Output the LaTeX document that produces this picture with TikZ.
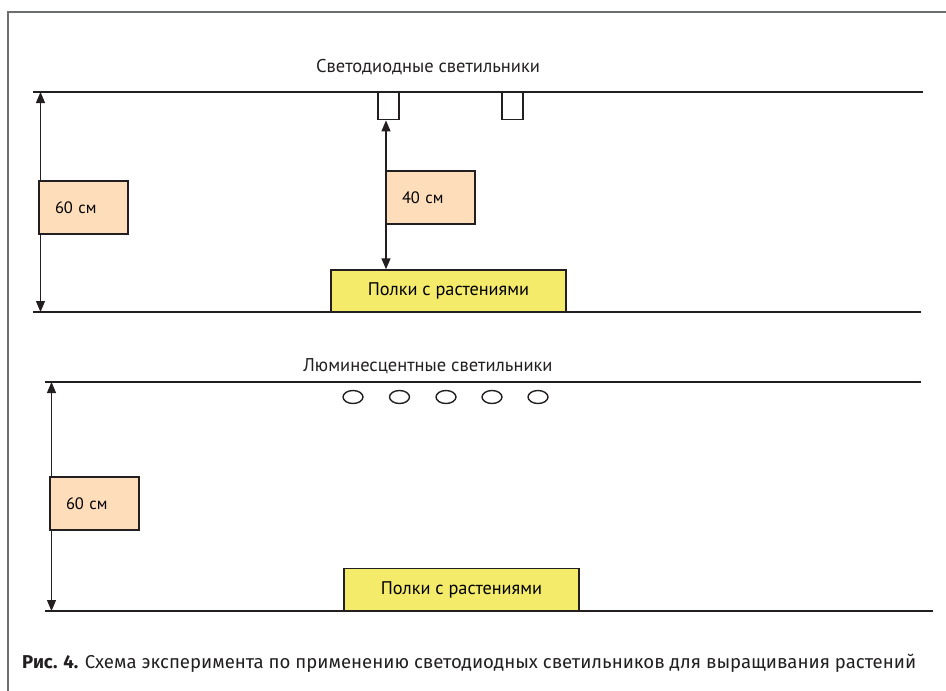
\documentclass[tikz,border=0pt]{standalone}
\usepackage{fontspec}
\setmainfont{PT Sans}
\newfontfamily\captionfont{Fira Sans}
\usetikzlibrary{arrows.meta,shapes.geometric}

\definecolor{ink}{HTML}{231F20}
\definecolor{framegray}{HTML}{6D6E70}
\definecolor{peach}{HTML}{FDDDBA}
\definecolor{lemon}{HTML}{F5EB6B}

\begin{document}
\begin{tikzpicture}[x=1pt,y=-1pt,
	level/.style={draw=ink, line width=2pt},
	dim/.style={draw=ink, line width=1.2pt, {Triangle[length=11pt,width=9pt]}-{Triangle[length=11pt,width=9pt]}},
	sizebox/.style={rectangle, draw=ink, fill=peach, line width=1.4pt, text width=57pt, inner xsep=16pt, minimum height=53pt, align=left, font=\fontsize{16.5}{20}\selectfont},
	shelfbox/.style={rectangle, draw=ink, fill=lemon, line width=1.4pt, minimum width=235pt, minimum height=42pt, font=\fontsize{18.3}{22}\selectfont},
	ledlamp/.style={rectangle, draw=ink, fill=white, line width=1.4pt, minimum width=21pt, minimum height=27pt, inner sep=0pt, anchor=north},
	tubelamp/.style={ellipse, draw=ink, line width=1.4pt, minimum width=20pt, minimum height=13pt, inner sep=0pt},
	title/.style={font=\fontsize{18.5}{22}\selectfont, text=ink},
	]
	\useasboundingbox (0,0) rectangle (946,691);

	%Frame
	\draw[framegray, line width=2pt] (946,12) -- (8,12) -- (8,691);

	%Levels
	\coordinate (ceilA) at (33,92);   \coordinate (ceilAe) at (923,92);
	\coordinate (floorA) at (33,312); \coordinate (floorAe) at (921,312);
	\coordinate (ceilB) at (45,382);  \coordinate (floorB) at (45,611);
	\coordinate (ceilBe) at (921,382); \coordinate (floorBe) at (933,611);
	\draw[level] (ceilA) -- (ceilAe);
	\draw[level] (floorA) -- (floorAe);
	\draw[level] (ceilB) -- (ceilBe);
	\draw[level] (floorB) -- (floorBe);

	%Heights
	\coordinate (dimAtop) at (40.5,92);  \coordinate (dimAbot) at (40.5,312);
	\coordinate (dimBtop) at (51.5,382); \coordinate (dimBbot) at (51.5,611);
	\draw[dim] (dimAtop) -- (dimAbot);
	\draw[dim] (dimBtop) -- (dimBbot);

	%Nodes
	\node[title]		(ledtitle)	at (428,67)		{Светодиодные светильники};
	\node[ledlamp]		(led1)		at (388.5,92)	{};
	\node[ledlamp]		(led2)		at (512.5,92)	{};
	\node[shelfbox]		(shelfA)	at (448.5,291)	{Полки с растениями};
	\node[sizebox]		(hA)		at (83.5,207.5)	{60 см};

	\node[title]		(tubetitle)	at (428,366)	{Люминесцентные светильники};
	\foreach \x [count=\i] in {353,399.5,446,492,538}
		\node[tubelamp] (tube\i) at (\x,397) {};
	\node[shelfbox]		(shelfB)	at (461.5,589.5)	{Полки с растениями};
	\node[sizebox]		(hB)		at (94.5,503.5)	{60 см};

	%Lines
	\draw[dim] ([xshift=-2.5pt]led1.south) -- ([xshift=-2.5pt]led1.south |- shelfA.north);
	\node[sizebox]		(hLed)		at (430.5,197.5)	{40 см};

	%Caption
	\node[anchor=west, inner sep=0pt, text=ink, font=\captionfont\fontsize{18.6}{22}\selectfont] (caption) at (22,663)
		{\textbf{Рис. 4.} Схема эксперимента по применению светодиодных светильников для выращивания растений};
\end{tikzpicture}
\end{document}
